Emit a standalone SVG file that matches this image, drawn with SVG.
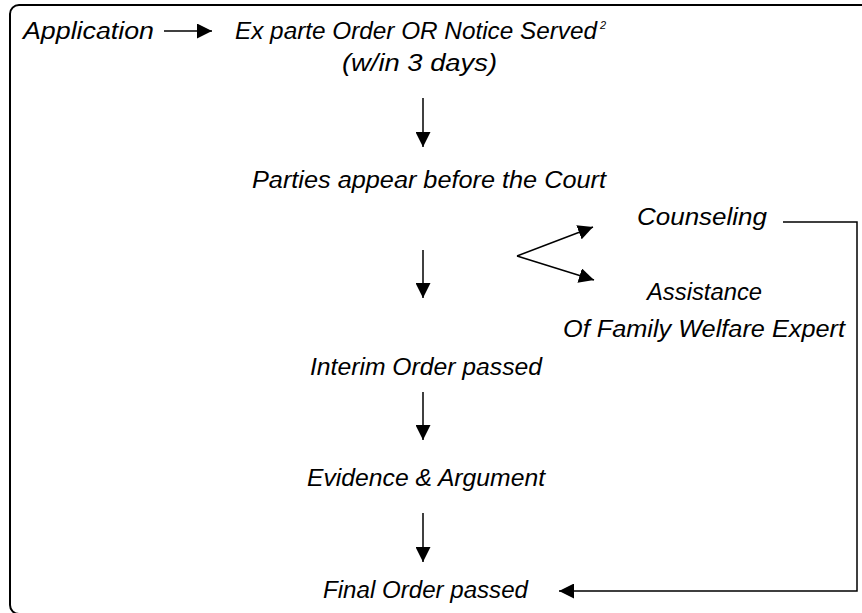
<svg xmlns="http://www.w3.org/2000/svg" width="862" height="613" viewBox="0 0 862 613">
<style>
  text { font-family: "Liberation Sans", Arial, sans-serif; font-style: italic; font-size: 24.5px; fill: #000; }
  .sup { font-size: 11px; }
  .ln { stroke: #000; stroke-width: 1.5; fill: none; }
  .frame { stroke: #000; stroke-width: 2; fill: none; }
</style>
<defs>
  <marker id="ah" markerWidth="15" markerHeight="15" refX="15" refY="7.5" orient="auto" markerUnits="userSpaceOnUse">
    <path d="M0,0 L15,7.5 L0,15 z" fill="#000"/>
  </marker>
</defs>
<rect class="frame" x="10" y="5" width="880" height="609" rx="9"/>
<g id="application"><text x="23" y="39" textLength="131" lengthAdjust="spacingAndGlyphs">Application</text></g>
<g id="exparte">
  <text x="235" y="39" textLength="362" lengthAdjust="spacingAndGlyphs">Ex parte Order OR Notice Served</text>
  <text class="sup" x="600" y="29">2</text>
  <text x="342" y="71" textLength="155" lengthAdjust="spacingAndGlyphs">(w/in 3 days)</text>
</g>
<g id="parties"><text x="252" y="188" textLength="354" lengthAdjust="spacingAndGlyphs">Parties appear before the Court</text></g>
<g id="counseling"><text x="637" y="225" textLength="130" lengthAdjust="spacingAndGlyphs">Counseling</text></g>
<g id="assistance">
  <text x="647" y="300" textLength="115" lengthAdjust="spacingAndGlyphs">Assistance</text>
  <text x="563" y="337" textLength="282" lengthAdjust="spacingAndGlyphs">Of Family Welfare Expert</text>
</g>
<g id="interim"><text x="310" y="375" textLength="232" lengthAdjust="spacingAndGlyphs">Interim Order passed</text></g>
<g id="evidence"><text x="307" y="486" textLength="238" lengthAdjust="spacingAndGlyphs">Evidence &amp; Argument</text></g>
<g id="final"><text x="323" y="598" textLength="205" lengthAdjust="spacingAndGlyphs">Final Order passed</text></g>
<g id="connectors">
  <line class="ln" x1="164" y1="31" x2="212" y2="31" marker-end="url(#ah)"/>
  <line class="ln" x1="423" y1="98" x2="423" y2="147" marker-end="url(#ah)"/>
  <line class="ln" x1="423" y1="250" x2="423" y2="298" marker-end="url(#ah)"/>
  <line class="ln" x1="517" y1="256" x2="593" y2="227" marker-end="url(#ah)"/>
  <line class="ln" x1="517" y1="256" x2="594" y2="280" marker-end="url(#ah)"/>
  <line class="ln" x1="423" y1="392" x2="423" y2="440" marker-end="url(#ah)"/>
  <line class="ln" x1="423" y1="513" x2="423" y2="562" marker-end="url(#ah)"/>
  <path class="ln" d="M783,222 H857 V591 H559" marker-end="url(#ah)"/>
</g>
</svg>
